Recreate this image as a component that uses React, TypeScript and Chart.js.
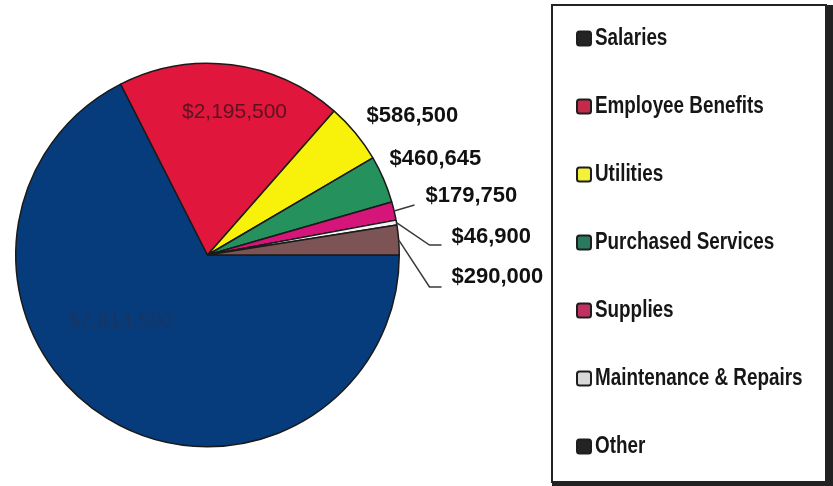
import React, { useEffect, useRef } from "react";
import { Chart, registerables } from "chart.js";

Chart.register(...registerables);

const CATEGORIES = [
  "Salaries",
  "Employee Benefits",
  "Utilities",
  "Purchased Services",
  "Supplies",
  "Maintenance & Repairs",
  "Other",
];
const VALUES = [7814500, 2195500, 586500, 460645, 179750, 46900, 290000];
const SLICE_COLORS = ["#063c7c", "#e0163c", "#f8f20a", "#25925e", "#d6157a", "#f4f4f4", "#7d5455"];
const LEGEND_COLORS = ["#242424", "#c42a4a", "#f5f03a", "#2a7a60", "#c03060", "#d8d8d8", "#242424"];

const fmt = (v: number) => "$" + v.toLocaleString("en-US");

function hasFont(ctx: CanvasRenderingContext2D, name: string) {
  const s = "abcdefgMW$0123456789";
  ctx.font = `40px '${name}', monospace`;
  const a = ctx.measureText(s).width;
  ctx.font = "40px monospace";
  const b = ctx.measureText(s).width;
  return Math.abs(a - b) > 0.5;
}

let narrowOk: boolean | null = null;

function drawText(
  ctx: CanvasRenderingContext2D,
  text: string,
  x: number,
  y: number,
  size: number,
  bold: boolean,
  color: string,
  align: CanvasTextAlign,
  narrow: boolean
) {
  if (narrowOk === null) narrowOk = hasFont(ctx, "Liberation Sans Narrow");
  ctx.save();
  ctx.fillStyle = color;
  ctx.textAlign = align;
  ctx.textBaseline = "middle";
  const w = bold ? "bold " : "";
  if (narrow && narrowOk) {
    ctx.font = `${w}${size}px 'Liberation Sans Narrow'`;
    ctx.fillText(text, x, y);
  } else if (narrow) {
    ctx.translate(x, y);
    ctx.scale(0.82, 1);
    ctx.font = `${w}${size}px 'Liberation Sans', Arial, sans-serif`;
    ctx.fillText(text, 0, 0);
  } else {
    ctx.font = `${w}${size}px 'Liberation Sans', Arial, sans-serif`;
    ctx.fillText(text, x, y);
  }
  ctx.restore();
}

const labelPlugin = {
  id: "customLabels",
  afterDatasetsDraw(chart: any) {
    const ctx: CanvasRenderingContext2D = chart.ctx;
    const meta = chart.getDatasetMeta(0);
    const arcs = meta.data;
    const cx = arcs[0].x;
    const cy = arcs[0].y;
    const r = arcs[0].outerRadius;
    const edge = (i: number) => {
      const a = (arcs[i].startAngle + arcs[i].endAngle) / 2;
      return { x: cx + Math.cos(a) * r, y: cy + Math.sin(a) * r };
    };

    // inside labels
    drawText(ctx, fmt(VALUES[0]), cx - 87, cy + 66, 21, false, "#1a3560", "center", false);
    drawText(ctx, fmt(VALUES[1]), cx + 27, cy - 143, 21, false, "#5a1420", "center", false);

    // outside labels
    const outside: { i: number; dx: number; dy: number; leader?: number[][] }[] = [
      { i: 2, dx: 159, dy: -139 },
      { i: 3, dx: 182, dy: -96 },
      { i: 4, dx: 218, dy: -59, leader: [[207, -50]] },
      { i: 5, dx: 244, dy: -18, leader: [[222, -10], [234, -10]] },
      { i: 6, dx: 244, dy: 22, leader: [[222, 32], [234, 32]] },
    ];
    outside.forEach((o) => {
      if (o.leader) {
        const p = edge(o.i);
        ctx.save();
        ctx.strokeStyle = "#3a3a3a";
        ctx.lineWidth = 1.5;
        ctx.beginPath();
        ctx.moveTo(p.x, p.y);
        o.leader.forEach(([lx, ly]) => ctx.lineTo(cx + lx, cy + ly));
        ctx.stroke();
        ctx.restore();
      }
      drawText(ctx, fmt(VALUES[o.i]), cx + o.dx, cy + o.dy, 22, true, "#111", "left", false);
    });
  },
  afterDraw(chart: any) {
    const ctx: CanvasRenderingContext2D = chart.ctx;
    // legend frame
    ctx.save();
    ctx.strokeStyle = "#222";
    ctx.lineWidth = 2;
    ctx.strokeRect(552, 5, 274, 477);
    ctx.fillStyle = "#222";
    ctx.fillRect(826, 5, 7, 481);
    ctx.fillRect(552, 481, 281, 5);
    ctx.restore();

    CATEGORIES.forEach((name, i) => {
      const y = 38.5 + i * 68;
      ctx.save();
      ctx.fillStyle = LEGEND_COLORS[i];
      ctx.strokeStyle = "#1e1e1e";
      ctx.lineWidth = 2;
      ctx.beginPath();
      (ctx as any).roundRect(577, y - 7, 14, 14, 2.5);
      ctx.fill();
      ctx.stroke();
      ctx.restore();
      drawText(ctx, name, 595, y, 23, true, "#161616", "left", true);
    });
  },
};

export default function App() {
  const ref = useRef<HTMLCanvasElement>(null);
  useEffect(() => {
    if (!ref.current) return;
    const chart = new Chart(ref.current, {
      type: "pie",
      data: {
        labels: CATEGORIES,
        datasets: [
          {
            data: VALUES,
            backgroundColor: SLICE_COLORS,
            borderColor: "#1a1a1a",
            borderWidth: 1.5,
          },
        ],
      },
      options: {
        responsive: false,
        devicePixelRatio: 1,
        animation: false,
        rotation: 90,
        layout: { padding: { left: 15, top: 62, right: 433, bottom: 38 } },
        plugins: {
          legend: { display: false },
          tooltip: { enabled: false },
        },
      },
      plugins: [labelPlugin],
    });
    return () => chart.destroy();
  }, []);
  return (
    <div style={{ position: "absolute", left: 0, top: 0, width: 833, height: 486, background: "#fff" }}>
      <canvas ref={ref} width={833} height={486} style={{ display: "block" }} />
    </div>
  );
}
